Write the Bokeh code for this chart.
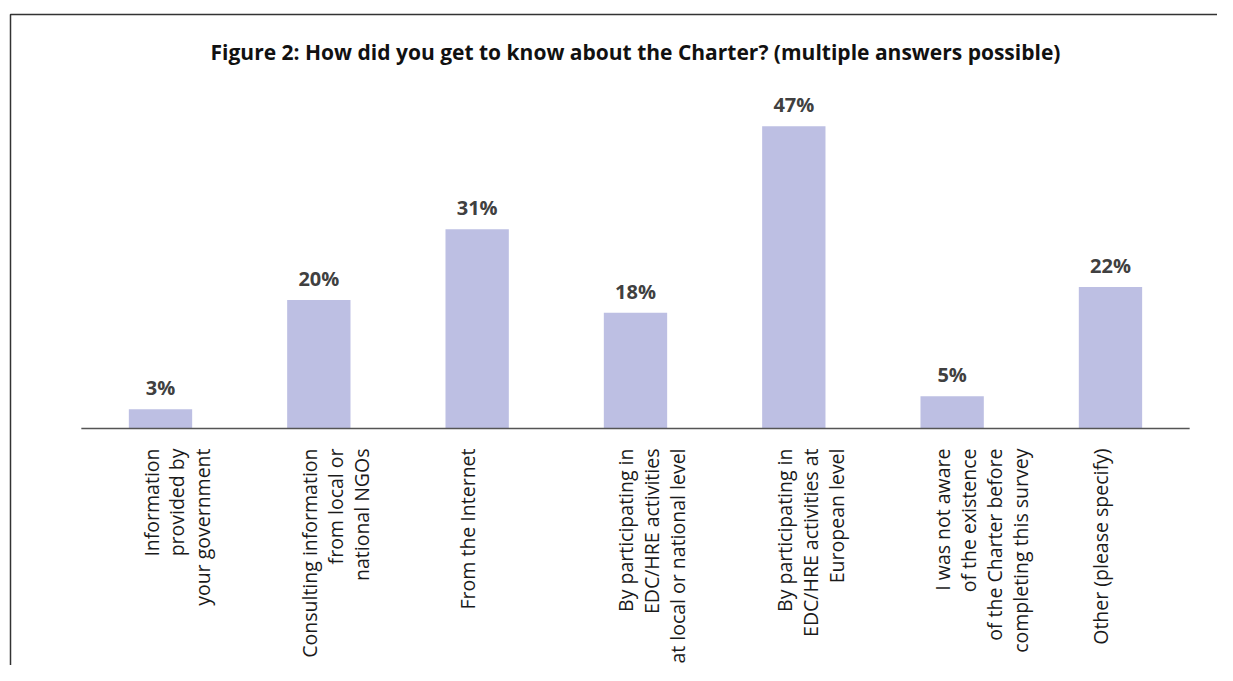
import numpy as np
from bokeh.plotting import figure
from bokeh.models import ColumnDataSource, Range1d, Label
from bokeh.embed import file_html
from bokeh.resources import INLINE
from bokeh.core.properties import value

# ---------------- data ----------------
title_text = "Figure 2: How did you get to know about the Charter? (multiple answers possible)"
categories = [
    "Information\nprovided by\nyour government",
    "Consulting information\nfrom local or\nnational NGOs",
    "From the Internet",
    "By participating in\nEDC/HRE activities\nat local or national level",
    "By participating in\nEDC/HRE activities at\nEuropean level",
    "I was not aware\nof the existence\nof the Charter before\ncompleting this survey",
    "Other (please specify)",
]
percent = [3, 20, 31, 18, 47, 5, 22]

# ---------------- layout ----------------
W, H = 1217, 665
px_per_cat = 158.33
first_center_px = 160.0
px_per_pct = 6.43
base_px = 428.0

x_start = -first_center_px / px_per_cat
x_end = x_start + W / px_per_cat
y_end = base_px / px_per_pct
y_start = -(H - base_px) / px_per_pct

n = len(categories)
src = ColumnDataSource(dict(
    x=list(range(n)),
    pct=percent,
    lab=[f"{v}%" for v in percent],
    cat=categories,
    zero=[0] * n,
))

p = figure(width=W, height=H, x_range=Range1d(x_start, x_end),
           y_range=Range1d(y_start, y_end), output_backend="svg",
           toolbar_location=None, min_border=0,
           x_axis_location=None, y_axis_location=None)
p.grid.visible = False
p.outline_line_color = None
p.background_fill_color = "white"
p.border_fill_color = "white"

# frame (left + top border of the figure box)
xl = x_start + 10 / px_per_cat
yt = y_end - 14 / px_per_pct
p.line(x=[xl, xl, x_end + 1], y=[y_start - 1, yt, yt], line_color="#333333", line_width=1.5)

# bars
p.vbar(x="x", top="pct", width=0.4, source=src, fill_color="#BDBFE3", line_color=None)

# baseline axis
p.segment(x0=-0.5, x1=n - 0.5, y0=0, y1=0, line_color="#555555", line_width=1.5)

# value labels
p.text(x="x", y="pct", text="lab", source=src, text_font=value("Open Sans"),
       text_font_style="bold", text_font_size="20px", text_color="#404040",
       text_align="center", text_baseline="bottom", y_offset=-8)

# category labels (rotated)
p.text(x="x", y="zero", text="cat", source=src, angle=np.pi / 2,
       text_font=value("Open Sans"), text_font_size="19.5px", text_color="#1a1a1a",
       text_align="right", text_baseline="top", x_offset=-23, y_offset=20,
       text_line_height=0.96)

# title
title_y = y_end - 51 / px_per_pct
p.add_layout(Label(x=(n - 1) / 2, y=title_y, text=title_text, text_align="center",
                   text_baseline="middle", text_font="Open Sans", text_font_style="bold",
                   text_font_size="21px", text_color="#111111"))

open("out.html", "w").write(file_html(p, INLINE))
